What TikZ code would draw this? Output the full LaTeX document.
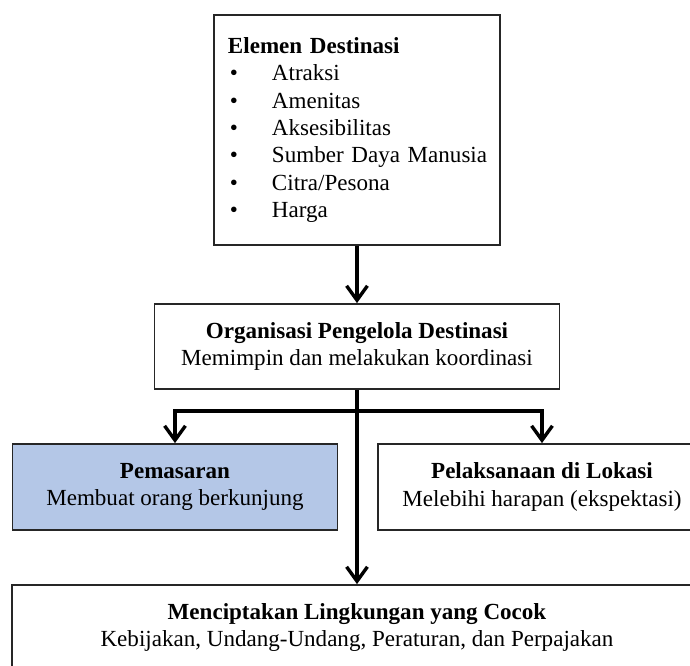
\documentclass[tikz,border=0pt]{standalone}
\usepackage{fontspec}
\setmainfont{Liberation Serif}
\usepackage{tikz}
\usepackage{xcolor}
\usetikzlibrary{arrows.meta}
\definecolor{birumuda}{RGB}{180,199,231}
\newcommand{\butir}[1]{\makebox[13.5mm][l]{\hspace{3mm}\textbullet}#1}

\begin{document}
\begin{tikzpicture}[x=0.25mm,y=-0.25mm,
  kotak/.style={draw=black!85,line width=0.45mm,inner sep=0pt,align=center,
    font=\fontsize{16.4}{19.5}\selectfont},
  panah/.style={line width=0.85mm,-{Straight Barb[length=3.6mm,width=5.2mm]}}]
\clip (0,0) rectangle (690,666);

\node[kotak,align=left,text width=69.5mm,minimum width=71.5mm,minimum height=57.5mm] (elemen) at (357,130)
{\hspace*{2.5mm}\textbf{Elemen Destinasi}\\
\butir{Atraksi}\\
\butir{Amenitas}\\
\butir{Aksesibilitas}\\
\butir{Sumber Daya Manusia}\\
\butir{Citra/Pesona}\\
\butir{Harga}\\[-0.6mm]};

\node[kotak,minimum width=101.25mm,minimum height=21.25mm] (opd) at (357,346.5)
{\textbf{Organisasi Pengelola Destinasi}\\Memimpin dan melakukan koordinasi};

\node[kotak,fill=birumuda,minimum width=81.25mm,minimum height=21.5mm] (pemasaran) at (175,487)
{\textbf{Pemasaran}\\Membuat orang berkunjung};
\node[kotak,minimum width=82mm,minimum height=21.5mm] (pelaksanaan) at (542,487)
{\textbf{Pelaksanaan di Lokasi}\\Melebihi harapan (ekspektasi)};

\node[kotak,minimum width=172.5mm,minimum height=21.25mm] (lingkungan) at (357,627.5)
{\textbf{Menciptakan Lingkungan yang Cocok}\\Kebijakan, Undang-Undang, Peraturan, dan Perpajakan};

\coordinate (cabang) at (357,411);

\draw[panah] (elemen.south) -- (elemen.south |- opd.north);
\draw[panah] (opd.south) -- (opd.south |- lingkungan.north);
\draw[panah] (cabang) -| (pemasaran.north);
\draw[panah] (cabang) -| (pelaksanaan.north);
\end{tikzpicture}
\end{document}
